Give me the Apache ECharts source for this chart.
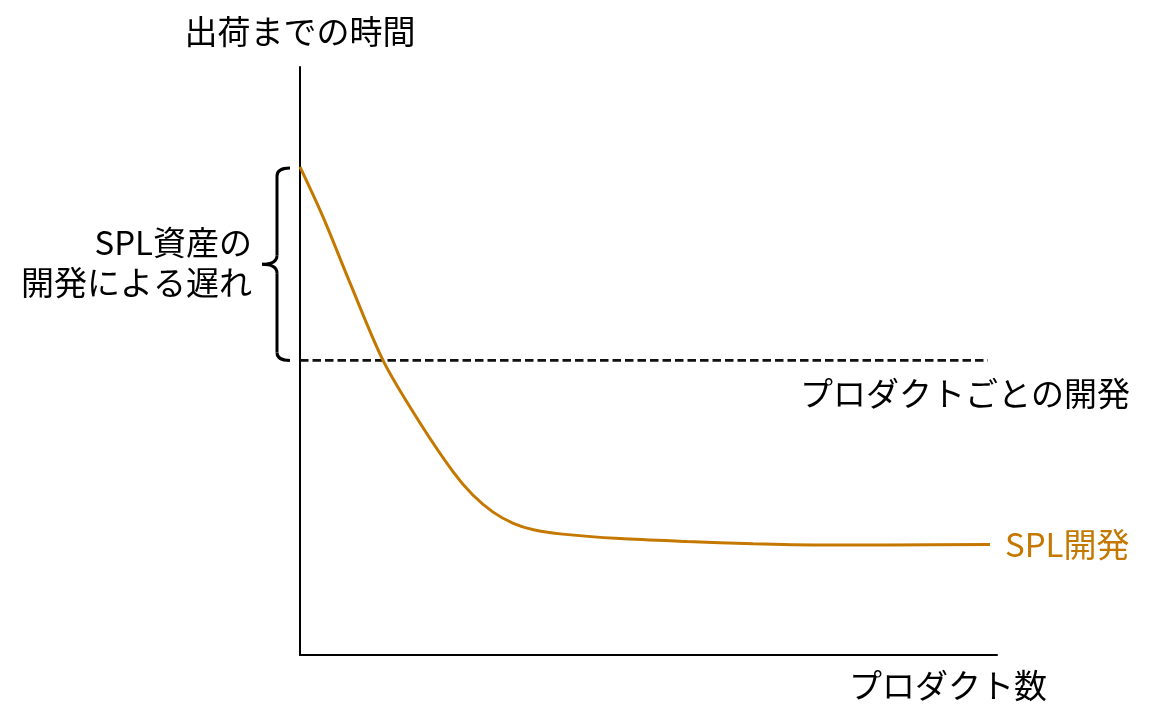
<!DOCTYPE html>
<html>
<head>
<meta charset="utf-8">
<script src="https://cdn.jsdelivr.net/npm/echarts@6/dist/echarts.min.js"></script>
<style>
  html, body { margin: 0; padding: 0; background: #fff; }
  #main { width: 1150px; height: 719px; }
</style>
</head>
<body>
<div id="main"></div>
<script>
// curve: x = product count (0-100), y = time to ship (0-100)
var splX = [0, 3.3, 7.2, 12.0, 17.2, 22.0, 24.8, 27.7, 30.6, 33.5, 37.3, 45.9, 55.5, 65.0, 74.6, 84.2, 99.0];
var splY = [83.0, 74.5, 63.2, 49.9, 39.5, 31.1, 27.2, 24.3, 22.4, 21.3, 20.6, 19.8, 19.3, 18.9, 18.7, 18.7, 18.8];
var perProductX = [0, 98.7];
var perProductY = [50.1, 50.1];

var yAxisName = '出荷までの時間';
var xAxisName = 'プロダクト数';
var splName = 'SPL開発';
var perProductName = 'プロダクトごとの開発';
var braceText = 'SPL資産の\n開発による遅れ';

var FONT = '"Noto Sans CJK JP", "Noto Sans", sans-serif';
var FS = 33;
var ORANGE = '#C47800';

function zip(xs, ys) {
    return xs.map(function (x, i) { return [x, ys[i]]; });
}

var myChart = echarts.init(document.getElementById('main'));

var option = {
    animation: false,
    textStyle: { fontFamily: FONT },
    grid: { left: 300, top: 67, width: 697, height: 588 },
    xAxis: {
        type: 'value',
        min: 0,
        max: 100,
        name: xAxisName,
        nameLocation: 'end',
        nameGap: 50,
        nameTextStyle: {
            fontFamily: FONT, fontSize: FS, color: '#000',
            align: 'right', verticalAlign: 'top', padding: [14, 0, 0, 0]
        },
        axisLine: { show: true, onZero: false, lineStyle: { color: '#000', width: 2 } },
        axisTick: { show: false },
        axisLabel: { show: false },
        splitLine: { show: false }
    },
    yAxis: {
        type: 'value',
        min: 0,
        max: 100,
        name: yAxisName,
        nameLocation: 'end',
        nameGap: 19,
        nameTextStyle: { fontFamily: FONT, fontSize: FS, color: '#000', align: 'center' },
        axisLine: { show: true, onZero: false, lineStyle: { color: '#000', width: 2 } },
        axisTick: { show: false },
        axisLabel: { show: false },
        splitLine: { show: false }
    },
    series: [
        {
            name: perProductName,
            type: 'line',
            data: zip(perProductX, perProductY),
            showSymbol: false,
            lineStyle: { color: '#111', width: 2.6, type: [8.5, 4] },
            endLabel: {
                show: true,
                formatter: '{a}',
                fontFamily: FONT,
                fontSize: FS,
                color: '#000',
                align: 'right',
                verticalAlign: 'middle',
                offset: [134, 33]
            },
            z: 2
        },
        {
            name: splName,
            type: 'line',
            data: zip(splX, splY),
            smooth: 0.3,
            showSymbol: false,
            lineStyle: { color: ORANGE, width: 3 },
            endLabel: {
                show: true,
                formatter: '{a}',
                fontFamily: FONT,
                fontSize: FS,
                color: ORANGE,
                distance: 15
            },
            z: 3
        }
    ]
};
myChart.setOption(option);

// brace spanning from the SPL start down to the per-product line
var pTop = myChart.convertToPixel({ gridIndex: 0 }, [0, splY[0]]);
var pBot = myChart.convertToPixel({ gridIndex: 0 }, [0, perProductY[0]]);
var x0 = pTop[0];
var bx = x0 - 23, hx = x0 - 10, tip = x0 - 38;
var y1 = pTop[1] + 1, y2 = pBot[1], ym = (y1 + y2) / 2;

function braceStyle() {
    return { fill: null, stroke: '#000', lineWidth: 3 };
}
function curve(ax, ay, cx, cy, ex, ey) {
    return {
        type: 'bezierCurve',
        shape: { x1: ax, y1: ay, cpx1: cx, cpy1: cy, x2: ex, y2: ey },
        style: braceStyle()
    };
}
function seg(ax, ay, ex, ey) {
    return { type: 'line', shape: { x1: ax, y1: ay, x2: ex, y2: ey }, style: braceStyle() };
}

myChart.setOption({
    graphic: [
        curve(hx, y1, bx, y1, bx, y1 + 8),
        seg(bx, y1 + 8, bx, ym - 9),
        curve(bx, ym - 9, bx, ym, tip, ym),
        curve(tip, ym, bx, ym, bx, ym + 9),
        seg(bx, ym + 9, bx, y2 - 8),
        curve(bx, y2 - 8, bx, y2, hx, y2),
        {
            type: 'text',
            x: tip - 10,
            y: ym - 2,
            style: {
                text: braceText,
                fontFamily: FONT,
                fontSize: FS,
                lineHeight: 40,
                fill: '#000',
                align: 'right',
                verticalAlign: 'middle'
            }
        }
    ]
});
</script>
</body>
</html>
